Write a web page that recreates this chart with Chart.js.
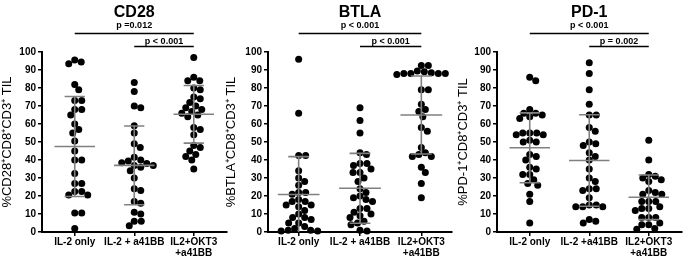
<!DOCTYPE html>
<html>
<head>
<meta charset="utf-8">
<script src="https://cdn.jsdelivr.net/npm/chart.js@4.4.1/dist/chart.umd.min.js"></script>
<style>
  body { margin: 0; background: #fff; width: 685px; height: 259px; position: relative; overflow: hidden; }
  canvas { position: absolute; top: 0; }
</style>
</head>
<body>
<canvas id="cd28" width="230" height="259" style="left:0px"></canvas>
<canvas id="btla" width="232" height="259" style="left:224px"></canvas>
<canvas id="pd1" width="229" height="259" style="left:456px"></canvas>
<script>
// groups on the x axis
var groupLabels = ['IL-2 only', 'IL-2 + a41BB', ['IL2+OKT3', '+a41BB']];
var groupLabelsPd1 = ['IL-2 only', 'IL-2 +a41BB', ['IL2+OKT3', '+a41BB']];
var yTicks = [0, 10, 20, 30, 40, 50, 60, 70, 80, 90, 100];

// CD28
var cd28Il2 = [95.5, 94.5, 93.5, 82, 79, 73, 73, 68, 68, 65, 60, 57, 55, 50.5, 45, 40, 40, 32.5, 27, 27, 22.5, 22.5, 20.5, 20.5, 10.5, 10.5, 2];
var cd28A41bb = [83, 78, 70, 69, 59, 55, 49, 47, 41.5, 40, 39.5, 38.5, 38, 37, 37, 36, 34, 30, 24, 23, 17, 16, 11, 10, 6, 6, 3.5];
var cd28Okt3 = [97, 86, 84, 84, 80, 79, 75, 74, 72, 70, 69, 68, 67, 66, 65, 64, 58, 57, 54, 48, 47, 45, 43, 42, 40, 35];
var cd28Mean = [47.5, 37, 65.4];
var cd28Sd = [27.8, 21.9, 16];
var cd28P = ['p =0.012', 'p < 0.001'];

// BTLA
var btlaIl2 = [96, 66, 42.5, 42.5, 34, 30, 28, 26, 22, 22, 21, 18, 17, 17, 15, 15, 14, 12, 10, 8, 8, 7, 5, 5, 3, 2, 1, 1, 0.5, 0.5];
var btlaA41bb = [69, 62, 55, 44, 43, 38, 38, 37, 35, 33, 33, 30, 28, 24, 22, 20, 19, 18, 17, 13, 13, 11, 10, 9, 8, 6, 5, 4, 1, 0.5];
var btlaOkt3 = [92.5, 92.5, 89.5, 89, 88.5, 88, 88, 88, 88, 87.5, 79, 79, 71, 68, 67, 64, 58, 56, 47, 44, 43, 42, 42, 36, 33, 27, 19];
var btlaMean = [20.8, 24.3, 65];
var btlaSd = [21.1, 19.4, 21.7];
var btlaP = ['p < 0.001', 'p < 0.001'];

// PD-1
var pd1Il2 = [86, 84, 68, 66, 66, 65, 64, 63, 55, 55, 55, 54, 54, 51, 50, 50, 43, 42, 40, 36, 35, 32, 32, 29, 27, 26, 21, 17, 5];
var pd1A41bb = [94, 88, 79, 71, 65, 65, 58, 56, 50, 49, 48, 44, 42, 40, 35, 30, 28, 24, 24, 23, 19, 15, 15, 14, 14, 14, 7, 6, 5];
var pd1Okt3 = [51, 40, 32, 31, 30, 29, 28, 23, 22, 21, 21, 17, 17, 17, 14, 13, 13, 12, 8, 8, 8, 5, 4, 4, 2, 1.5];
var pd1Mean = [46.8, 39.7, 19.3];
var pd1Sd = [19.4, 25.4, 12.4];
var pd1P = ['p < 0.001', 'p = 0.002'];

var FONT = 'Arial, "Liberation Sans", Helvetica, sans-serif';
var DOT_GAP = 6.6;

// mean line + SD whiskers, drawn over the dots
var meanSdPlugin = {
  id: 'meanSd',
  afterDatasetsDraw: function (chart) {
    var o = chart.options.plugins.meanSd;
    var ctx = chart.ctx, x = chart.scales.x, y = chart.scales.y;
    ctx.save();
    ctx.strokeStyle = '#808080';
    ctx.lineWidth = 1.6;
    o.means.forEach(function (m, i) {
      var g = i + 1;
      var top = m + o.sds[i], bot = m - o.sds[i];
      var yT = y.getPixelForValue(top), yB = y.getPixelForValue(Math.max(bot, 0)), yM = y.getPixelForValue(m);
      ctx.beginPath();
      ctx.moveTo(x.getPixelForValue(g - 0.34), yM); ctx.lineTo(x.getPixelForValue(g + 0.34), yM);
      ctx.moveTo(x.getPixelForValue(g), yT); ctx.lineTo(x.getPixelForValue(g), yB);
      ctx.moveTo(x.getPixelForValue(g - 0.17), yT); ctx.lineTo(x.getPixelForValue(g + 0.17), yT);
      if (bot > 0) { ctx.moveTo(x.getPixelForValue(g - 0.17), yB); ctx.lineTo(x.getPixelForValue(g + 0.17), yB); }
      ctx.stroke();
    });
    ctx.restore();
  }
};

// panel title and the two significance brackets
var headerPlugin = {
  id: 'header',
  afterDraw: function (chart) {
    var o = chart.options.plugins.header;
    var ctx = chart.ctx, x = chart.scales.x, a = chart.chartArea;
    ctx.save();
    ctx.fillStyle = '#000';
    ctx.textAlign = 'center';
    ctx.textBaseline = 'alphabetic';
    ctx.font = 'bold 16px ' + FONT;
    ctx.fillText(o.title, (a.left + a.right) / 2, 17);
    var brackets = [[1, 3, o.p[0], 33.5, 28], [2, 3, o.p[1], 46.5, 43.5]];
    ctx.strokeStyle = '#000';
    ctx.lineWidth = 1.3;
    ctx.font = 'bold 9px ' + FONT;
    brackets.forEach(function (b) {
      var x0 = x.getPixelForValue(b[0]), x1 = x.getPixelForValue(b[1]);
      ctx.beginPath(); ctx.moveTo(x0, b[3]); ctx.lineTo(x1, b[3]); ctx.stroke();
      ctx.fillText(b[2], (x0 + x1) / 2, b[4]);
    });
    ctx.restore();
  }
};

function makePanel(id, title, yTitle, labels, groups, means, sds, pTexts, axisWidth, xMin, xMax, padRight) {
  var chart = new Chart(document.getElementById(id), {
    type: 'scatter',
    data: {
      datasets: groups.map(function (vals, g) {
        return {
          data: vals.map(function (v) { return { x: g + 1, y: v }; }),
          backgroundColor: '#000',
          borderWidth: 0,
          pointRadius: 3.5,
          pointHoverRadius: 3.5,
          clip: false
        };
      })
    },
    options: {
      responsive: false,
      animation: false,
      events: [],
      layout: { padding: { top: 52, right: padRight, bottom: 0, left: 0 } },
      scales: {
        x: {
          type: 'linear',
          min: xMin,
          max: xMax,
          afterBuildTicks: function (s) { s.ticks = [1, 2, 3].map(function (v) { return { value: v }; }); },
          afterFit: function (s) { s.height = 27; },
          ticks: {
            autoSkip: false,
            maxRotation: 0,
            padding: 1,
            color: '#000',
            font: { family: FONT, size: 10, weight: 'bold', lineHeight: 1.1 },
            callback: function (v) { return labels[v - 1]; }
          },
          grid: { drawOnChartArea: false, drawTicks: true, tickLength: 4, color: '#000', lineWidth: 1.5 },
          border: { color: '#000', width: 2 }
        },
        y: {
          min: 0,
          max: 100,
          afterBuildTicks: function (s) { s.ticks = yTicks.map(function (v) { return { value: v }; }); },
          afterFit: function (s) { s.width = axisWidth; },
          ticks: {
            padding: 2,
            color: '#000',
            font: { family: FONT, size: 10, weight: 'bold' }
          },
          grid: { drawOnChartArea: false, drawTicks: true, tickLength: 4, color: '#000', lineWidth: 1.5 },
          border: { color: '#000', width: 2 },
          title: {
            display: true,
            text: yTitle,
            color: '#000',
            padding: { top: 0, bottom: 0 },
            font: { family: FONT, size: 13 }
          }
        }
      },
      plugins: {
        legend: { display: false },
        tooltip: { enabled: false },
        meanSd: { means: means, sds: sds },
        header: { title: title, p: pTexts }
      }
    },
    plugins: [meanSdPlugin, headerPlugin]
  });
  swarm(chart, groups);
  return chart;
}

// spread dots sideways so they do not overlap (scatter dot plot)
function swarm(chart, groups) {
  var xs = chart.scales.x, ys = chart.scales.y;
  var pxPerUnit = xs.getPixelForValue(2) - xs.getPixelForValue(1);
  groups.forEach(function (vals, g) {
    var pts = vals.map(function (v) { return { v: v, py: ys.getPixelForValue(v), dx: 0 }; });
    var placed = [];
    pts.slice().sort(function (a, b) { return b.v - a.v; }).forEach(function (p) {
      for (var k = 0; k < 400; k++) {
        var dx = (k % 2 ? 1 : -1) * Math.ceil(k / 2) * 0.5;
        var ok = placed.every(function (q) {
          return (q.dx - dx) * (q.dx - dx) + (q.py - p.py) * (q.py - p.py) >= DOT_GAP * DOT_GAP;
        });
        if (ok) { p.dx = dx; break; }
      }
      placed.push(p);
    });
    chart.data.datasets[g].data = pts.map(function (p) { return { x: g + 1 + p.dx / pxPerUnit, y: p.v }; });
  });
  chart.update('none');
}

makePanel('cd28', 'CD28', '%CD28\u207ACD8\u207ACD3\u207A TIL', groupLabels,
  [cd28Il2, cd28A41bb, cd28Okt3], cd28Mean, cd28Sd, cd28P, 42, 0.45, 3.55, 2);
makePanel('btla', 'BTLA', '%BTLA\u207ACD8\u207ACD3\u207A TIL', groupLabels,
  [btlaIl2, btlaA41bb, btlaOkt3], btlaMean, btlaSd, btlaP, 44, 0.5, 3.5, 4);
makePanel('pd1', 'PD-1', '%PD-1\u207ACD8\u207ACD3\u207A TIL', groupLabelsPd1,
  [pd1Il2, pd1A41bb, pd1Okt3], pd1Mean, pd1Sd, pd1P, 41, 0.45, 3.55, 2);
</script>
</body>
</html>
